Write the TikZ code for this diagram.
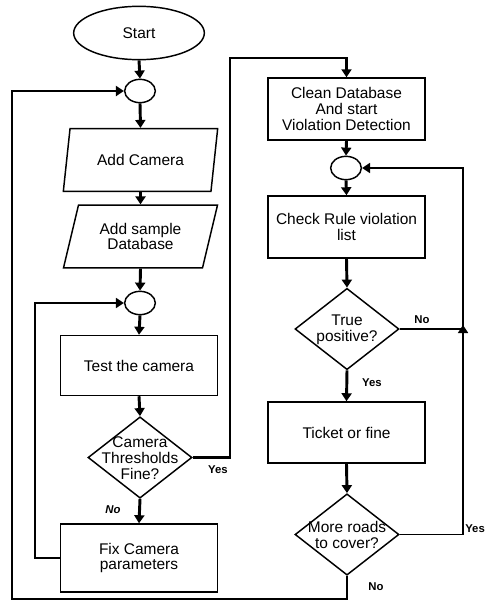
\documentclass[tikz,border=0pt]{standalone}
\usepackage{fontspec}
\setmainfont{Liberation Sans}
\usetikzlibrary{shapes.geometric,arrows.meta}
\newcommand\boxfont{\fontsize{11.6}{11.8}\selectfont}
\newcommand\labfont{\fontsize{8.5}{9}\selectfont\bfseries}
\tikzset{
  base/.style={draw, line width=1.1pt, font=\boxfont, align=center, inner sep=0pt},
  term/.style={base, ellipse, minimum width=98pt, minimum height=40pt},
  junc/.style={draw, line width=1.1pt, ellipse, minimum width=23pt, minimum height=17.5pt, inner sep=0pt},
  io/.style={base, trapezium, trapezium left angle=70, trapezium right angle=110,
    trapezium stretches=true, minimum width=116pt, minimum height=47pt},
  proc/.style={base, rectangle, minimum width=117.75pt},
  dec/.style={draw, line width=1.1pt, diamond, minimum width=78pt, minimum height=61pt, inner sep=0pt},
  dtext/.style={font=\boxfont, align=center, inner sep=0pt},
  tip/.style={-{Triangle[length=6pt,width=7.5pt]}},
  flow/.style={line width=2.2pt, tip},
  link/.style={line width=1.3pt, tip},
  lab/.style={font=\labfont, inner sep=0pt}
}
\begin{document}
\begin{tikzpicture}[x=0.75pt, y=-0.75pt]
\useasboundingbox (0,0) rectangle (485,603);

% left column: setup and camera calibration
\node[term] (start) at (139,33) {Start};
\node[junc] (j1) at (140,91) {};
\node[io] (cam) at (140.5,160) {Add Camera};
\node[io] (db) at (140.5,236.5) {Add sample\\Database};
\node[junc] (j2) at (140,303) {};
\node[proc, minimum height=45pt] (test) at (139,365.5) {Test the camera};
\node[dec] (dc) at (140,457.5) {};
\node[dtext] (dct) at (140,458) {Camera\\Thresholds\\Fine?};
\node[proc, minimum height=51pt] (fix) at (139,558) {Fix Camera\\parameters};

% right column: violation detection
\node[proc, minimum height=46.5pt] (clean) at (346.5,109) {Clean Database\\And start\\Violation Detection};
\node[junc] (j3) at (346,168) {};
\node[proc, minimum height=46.5pt] (check) at (346.5,227) {Check Rule violation\\list};
\node[dec] (tp) at (347,329) {};
\node[dtext] (tpt) at (347,330) {True\\positive?};
\node[proc, minimum height=45.75pt] (ticket) at (346.5,432.5) {Ticket or fine};
\node[dec] (mr) at (347,534.5) {};
\node[dtext] (mrt) at (347,535) {More roads\\to cover?};

% bend points of the loops
\coordinate (ya) at (230,58);
\coordinate (rr) at (463,168);
\coordinate (tpj) at (463,329);
\coordinate (ob) at (12,599);

% main flow
\draw[flow] (start.south) -- (j1.north);
\draw[flow] (j1.south) -- (cam.north);
\draw[flow] (cam.south) -- (db.north);
\draw[flow] (db.south) -- (j2.north);
\draw[flow] (j2.south) -- (test.north);
\draw[flow] (test.south) -- (dc.north);
\draw[flow] (dc.south) -- (fix.north);
\draw[link] (fix.west) -- ++(-25,0) |- (j2.west);
\draw[flow] (dc.east) -| (ya) -| (clean.north);

\draw[flow] (clean.south) -- (j3.north);
\draw[flow] (j3.south) -- (check.north);
\draw[flow] (check.south) -- (tp.north);
\draw[flow] (tp.south) -- (ticket.north);
\draw[flow] (ticket.south) -- (mr.north);
\draw[link] (mr.east) -| (rr) -- (j3.east);
\draw[line width=1.3pt] (tp.east) -- (tpj);
\draw[link] (tpj) ++(0,4) -- ++(0,-8);
\draw[flow] (mr.south) |- (ob) |- (j1.west);

% branch labels
\node[lab] (yes1) at (218,470) {Yes};
\node[lab, font=\labfont\itshape] (no1) at (113,510) {No};
\node[lab] (no2) at (422,320) {No};
\node[lab] (yes2) at (372,383) {Yes};
\node[lab, anchor=west] (yes3) at (465,529) {Yes};
\node[lab] (no3) at (376,587) {No};
\end{tikzpicture}
\end{document}
